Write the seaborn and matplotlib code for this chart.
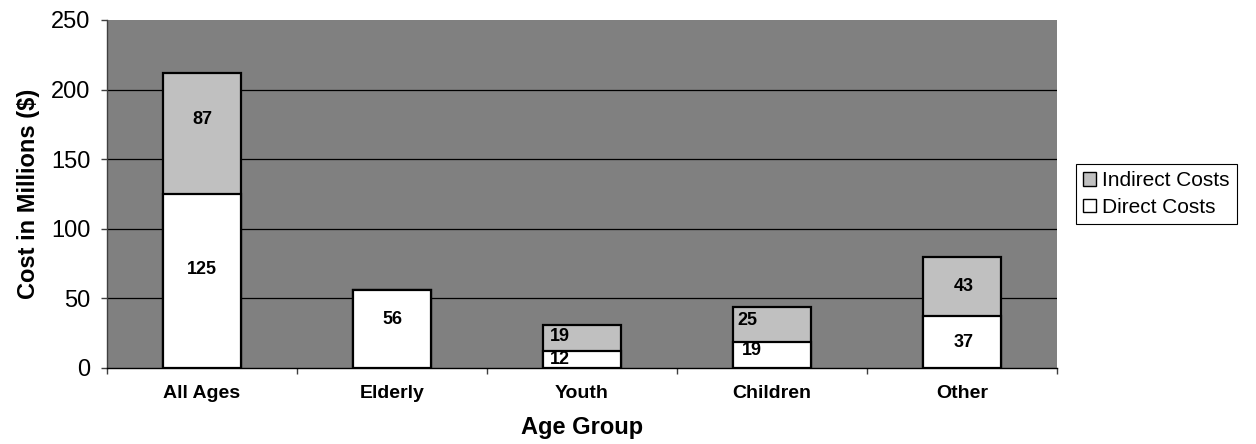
import matplotlib
matplotlib.use("Agg")
import matplotlib.pyplot as plt
import seaborn as sns
import pandas as pd
from matplotlib.patches import Patch
from matplotlib.ticker import FixedLocator
from matplotlib import transforms

groups = ["All Ages", "Elderly", "Youth", "Children", "Other"]
direct_costs = [125, 56, 12, 19, 37]
indirect_costs = [87, 0, 19, 25, 43]
series_names = ["Indirect Costs", "Direct Costs"]
y_ticks = [0, 50, 100, 150, 200, 250]

# label nudges in pixels (dx, dy) for the value annotations
direct_nudge = [(0, 12), (0, 10), (-22, 0), (-20, 4), (2, 0)]
indirect_nudge = [(0, 14), (0, 0), (-22, 2), (-25, 4), (2, 0)]

sns.set_theme(style="white")
plt.rcParams["font.family"] = ["Liberation Sans", "DejaVu Sans"]
plt.rcParams["text.color"] = "black"
plt.rcParams["axes.labelcolor"] = "black"
plt.rcParams["xtick.color"] = "black"
plt.rcParams["ytick.color"] = "black"

df = pd.DataFrame({
    "group": groups,
    "direct": direct_costs,
    "indirect": indirect_costs,
})
df["total"] = df["direct"] + df["indirect"]

fig = plt.figure(figsize=(12.56, 4.44), dpi=100)
ax = fig.add_axes([107 / 1256, 1 - 368 / 444, 950 / 1256, 348 / 444])
ax.set_facecolor("#808080")

bar_w = 0.41
sns.barplot(data=df, x="group", y="total", color="#C0C0C0", width=bar_w,
            edgecolor="black", linewidth=1.6, saturation=1, ax=ax, zorder=3)
sns.barplot(data=df, x="group", y="direct", color="white", width=bar_w,
            edgecolor="black", linewidth=1.6, saturation=1, ax=ax, zorder=4)

ax.set_xlim(-0.5, len(groups) - 0.5)
ax.set_ylim(0, 250)
ax.set_yticks(y_ticks)
# horizontal rules inside the plot area (none on the top edge)
for v in y_ticks[1:-1]:
    ax.axhline(v, color="black", linewidth=0.9, zorder=1)

for s in ["top", "right"]:
    ax.spines[s].set_visible(False)
ax.spines["left"].set_color("#404040")
ax.spines["left"].set_linewidth(1.0)
ax.spines["bottom"].set_color("black")
ax.spines["bottom"].set_linewidth(1.0)

ax.tick_params(axis="y", which="major", left=True, length=4, width=1,
               color="#404040", pad=8, labelsize=17, labelcolor="black")
ax.tick_params(axis="x", which="major", bottom=False, pad=6, labelsize=14,
               labelcolor="black")
for lab in ax.get_xticklabels():
    lab.set_fontweight("bold")
ax.xaxis.set_minor_locator(FixedLocator([i + 0.5 for i in range(-1, len(groups))]))
ax.tick_params(axis="x", which="minor", bottom=True, length=4, width=1, color="#404040")

ax.set_xlabel("Age Group", fontsize=17, fontweight="bold", labelpad=10, color="black")
ax.set_ylabel("Cost in Millions ($)", fontsize=17, fontweight="bold", labelpad=8,
              color="black")

for i in range(len(groups)):
    d = direct_costs[i]
    ind = indirect_costs[i]
    dx, dy = direct_nudge[i]
    tr = ax.transData + transforms.ScaledTranslation(dx / fig.dpi, dy / fig.dpi, fig.dpi_scale_trans)
    ax.text(i, d / 2, f"{d}", ha="center", va="center", fontsize=13,
            fontweight="bold", color="black", transform=tr, zorder=5)
    if ind > 0:
        dx, dy = indirect_nudge[i]
        tr = ax.transData + transforms.ScaledTranslation(dx / fig.dpi, dy / fig.dpi, fig.dpi_scale_trans)
        ax.text(i, d + ind / 2, f"{ind}", ha="center", va="center", fontsize=13,
                fontweight="bold", color="black", transform=tr, zorder=5)

handles = [
    Patch(facecolor="#C0C0C0", edgecolor="black", linewidth=1.0, label=series_names[0]),
    Patch(facecolor="white", edgecolor="black", linewidth=1.0, label=series_names[1]),
]
leg = fig.legend(handles=handles, loc="upper left",
                 bbox_to_anchor=(1076 / 1256, 1 - 164 / 444),
                 fontsize=15, frameon=True, fancybox=False, framealpha=1,
                 edgecolor="black", borderpad=0.35, labelspacing=0.35,
                 handlelength=0.6, handleheight=0.6, handletextpad=0.3,
                 borderaxespad=0)
leg.get_frame().set_linewidth(0.8)

fig.savefig("out.png", dpi=100)
